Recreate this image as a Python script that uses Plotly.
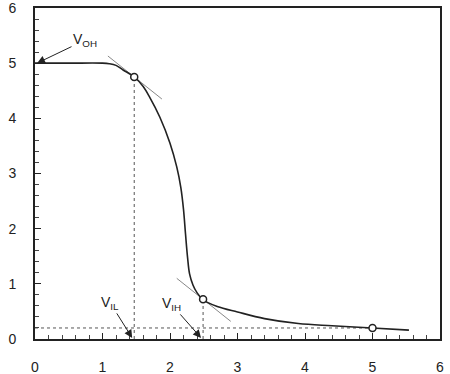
import plotly.graph_objects as go

# Transfer characteristic (Vin, Vout)
vin = [0, 0.5, 1.0, 1.1, 1.2, 1.3, 1.47, 1.6, 1.7, 1.85, 2.0, 2.1, 2.16, 2.2, 2.23, 2.26, 2.29,
       2.34, 2.40, 2.49, 2.7, 3.0, 3.4, 3.9, 4.4, 5.0, 5.54]
vout = [5.0, 5.0, 5.0, 4.99, 4.96, 4.88, 4.75, 4.58, 4.38, 4.02, 3.55, 3.12, 2.75, 2.35, 1.90, 1.48, 1.18,
        0.98, 0.84, 0.71, 0.59, 0.49, 0.37, 0.28, 0.24, 0.20, 0.16]

# Characteristic points
pts_x = [1.47, 2.49, 5.0]
pts_y = [4.75, 0.72, 0.20]
VIL, VIH, VOL, VOH = 1.47, 2.49, 0.20, 5.0

# Tangent segments (slope -1)
tan1_x = [1.08, 1.88]
tan1_y = [5.13, 4.35]
tan2_x = [2.10, 2.90]
tan2_y = [1.10, 0.32]

FONT = "Liberation Sans, Arial, sans-serif"
INK = "#222222"

fig = go.Figure()

# dotted guides
fig.add_trace(go.Scatter(x=[0, 5.0], y=[VOL, VOL], mode="lines",
                         line=dict(color="#555", width=1, dash="dot"), hoverinfo="skip"))
fig.add_trace(go.Scatter(x=[VIL, VIL], y=[0, pts_y[0]], mode="lines",
                         line=dict(color="#555", width=1, dash="dot"), hoverinfo="skip"))
fig.add_trace(go.Scatter(x=[VIH, VIH], y=[0, pts_y[1]], mode="lines",
                         line=dict(color="#555", width=1, dash="dot"), hoverinfo="skip"))

# tangents
fig.add_trace(go.Scatter(x=tan1_x, y=tan1_y, mode="lines",
                         line=dict(color="#888", width=1), hoverinfo="skip"))
fig.add_trace(go.Scatter(x=tan2_x, y=tan2_y, mode="lines",
                         line=dict(color="#888", width=1), hoverinfo="skip"))

# curve
fig.add_trace(go.Scatter(x=vin, y=vout, mode="lines",
                         line=dict(color=INK, width=1.6, shape="spline", smoothing=1.0)))

# markers
fig.add_trace(go.Scatter(x=pts_x, y=pts_y, mode="markers",
                         marker=dict(symbol="circle", size=7, color="white",
                                     line=dict(color=INK, width=1.5))))

axis_common = dict(range=[0, 6], dtick=1,
                   ticks="inside", ticklen=6, tickwidth=1.2,
                   tickcolor=INK, showline=True, linecolor=INK, linewidth=1.8, mirror=True,
                   showgrid=False, zeroline=False, automargin=False,
                   ticklabeloverflow="allow",
                   minor=dict(dtick=0.2, ticks="inside", ticklen=4, tickwidth=1,
                              tickcolor="#444", showgrid=False),
                   tickfont=dict(family=FONT, size=14, color=INK))

fig.update_layout(
    width=450, height=374,
    margin=dict(l=35, r=10, t=8, b=35),
    paper_bgcolor="white", plot_bgcolor="white",
    showlegend=False,
    xaxis=dict(**axis_common, ticklabelstandoff=14),
    yaxis=dict(**axis_common, ticklabelstandoff=14),
)

afont = dict(family=FONT, size=14, color=INK)
arrow = dict(showarrow=True, arrowhead=2, arrowsize=1.6, arrowwidth=1, arrowcolor="#222",
             xref="x", yref="y", font=afont)
fig.add_annotation(x=0.03, y=VOH, ax=48, ay=-23, text="V<sub>OH</sub>", **arrow)
fig.add_annotation(x=VIL - 0.03, y=0.02, ax=-22, ay=-35, text="V<sub>IL</sub>", **arrow)
fig.add_annotation(x=VIH - 0.03, y=0.02, ax=-30, ay=-34, text="V<sub>IH</sub>", **arrow)

fig.add_annotation(x=-0.33, y=0.3, xref="x", yref="y", text="V<sub>OL</sub>",
                   showarrow=False, font=afont)

fig.write_html("out.html", config={"displayModeBar": False},
               post_script="document.body.style.margin='0';document.body.style.overflow='hidden';")
